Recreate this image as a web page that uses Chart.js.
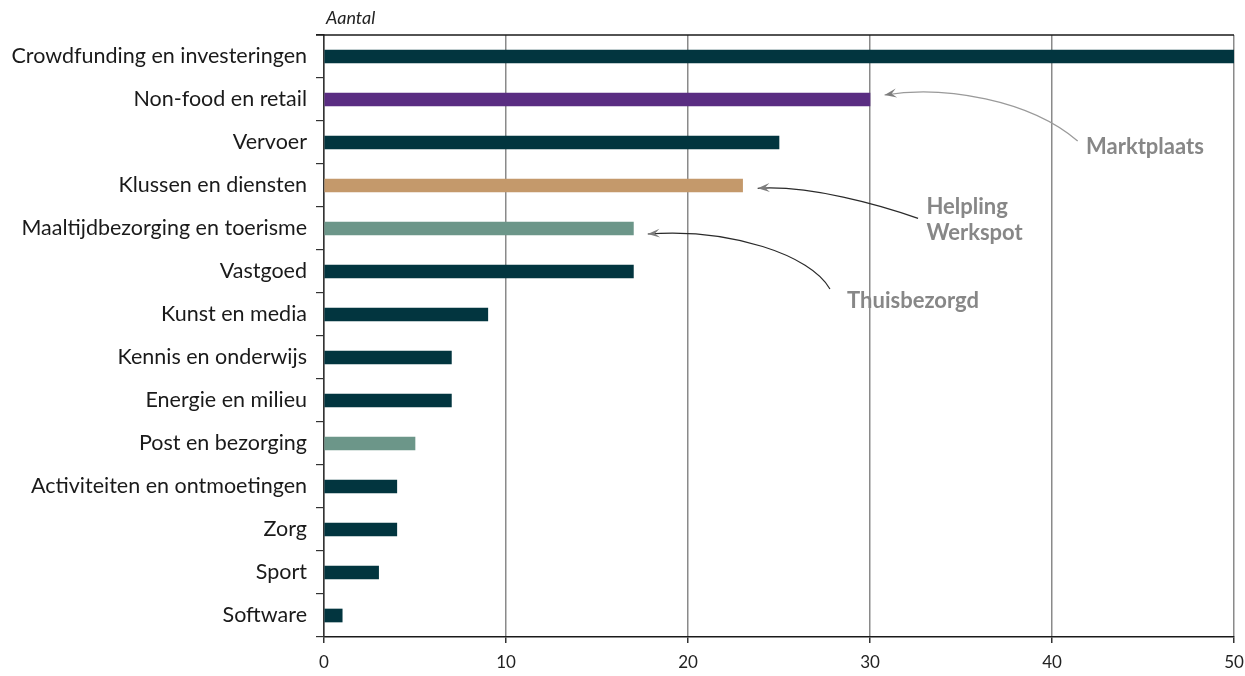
<!DOCTYPE html>
<html>
<head>
<meta charset="utf-8">
<script src="https://cdn.jsdelivr.net/npm/chart.js@4.4.0/dist/chart.umd.min.js"></script>
<style>
  html, body { margin: 0; padding: 0; background: #fff; }
</style>
</head>
<body>
<canvas id="chart" width="1245" height="676"></canvas>
<script>
const categories = [
  "Crowdfunding en investeringen",
  "Non-food en retail",
  "Vervoer",
  "Klussen en diensten",
  "Maaltijdbezorging en toerisme",
  "Vastgoed",
  "Kunst en media",
  "Kennis en onderwijs",
  "Energie en milieu",
  "Post en bezorging",
  "Activiteiten en ontmoetingen",
  "Zorg",
  "Sport",
  "Software"
];
const counts = [50, 30, 25, 23, 17, 17, 9, 7, 7, 5, 4, 4, 3, 1];
const xTicks = [0, 10, 20, 30, 40, 50];

const DARK = "#02353f", PURPLE = "#5a2d82", TAN = "#c4996b", SAGE = "#6c9689";
const barColors = [DARK, PURPLE, DARK, TAN, SAGE, DARK, DARK, DARK, DARK, SAGE, DARK, DARK, DARK, DARK];

// callouts, placed in data units (x = value, y = category index)
const callouts = [
  { lines: ["Marktplaats"], at: [41.87, 2.098], from: [41.41, 1.965], c1: [38.79, 1.012], c2: [34.07, 0.663], tip: [30.8, 0.895], stroke: "#9a9a9a" },
  { lines: ["Helpling", "Werkspot"], at: [33.1, 3.493], from: [32.64, 3.763], c1: [30.55, 3.453], c2: [26.7, 2.988], tip: [23.83, 3.065], stroke: "#2a2a2a" },
  { lines: ["Thuisbezorgd"], at: [28.74, 5.679], from: [27.8, 5.407], c1: [26.76, 4.616], c2: [22.31, 3.988], tip: [17.79, 4.128], stroke: "#2a2a2a" }
];

const extras = {
  id: "extras",
  afterDatasetsDraw(chart) {
    const { ctx, chartArea, scales } = chart;
    const x = scales.x, y = scales.y;
    const px = (p) => [x.getPixelForValue(p[0]), y.getPixelForValue(p[1])];
    ctx.save();

    // top frame line
    ctx.strokeStyle = "#1a1a1a";
    ctx.lineWidth = 1.5;
    ctx.beginPath();
    ctx.moveTo(chartArea.left - 8, chartArea.top);
    ctx.lineTo(chartArea.right, chartArea.top);
    ctx.stroke();

    // axis caption
    ctx.fillStyle = "#222";
    ctx.font = "italic 18px Lato";
    ctx.textBaseline = "middle";
    ctx.textAlign = "left";
    ctx.fillText("Aantal", chartArea.left + 2, chartArea.top - 17);

    callouts.forEach((c) => {
      const s = px(c.from), a = px(c.c1), b = px(c.c2), t = px(c.tip);
      ctx.strokeStyle = c.stroke;
      ctx.lineWidth = 1.2;
      ctx.beginPath();
      ctx.moveTo(s[0], s[1]);
      ctx.bezierCurveTo(a[0], a[1], b[0], b[1], t[0], t[1]);
      ctx.stroke();

      const ang = Math.atan2(t[1] - b[1], t[0] - b[0]);
      const len = 12, half = 4.5;
      ctx.fillStyle = "#7d7d7d";
      ctx.beginPath();
      ctx.moveTo(t[0], t[1]);
      ctx.lineTo(t[0] - len * Math.cos(ang) + half * Math.sin(ang), t[1] - len * Math.sin(ang) - half * Math.cos(ang));
      ctx.lineTo(t[0] - len * 0.6 * Math.cos(ang), t[1] - len * 0.6 * Math.sin(ang));
      ctx.lineTo(t[0] - len * Math.cos(ang) - half * Math.sin(ang), t[1] - len * Math.sin(ang) + half * Math.cos(ang));
      ctx.closePath();
      ctx.fill();

      const p = px(c.at);
      ctx.fillStyle = "#878787";
      ctx.font = "bold 22px Lato";
      c.lines.forEach((line, i) => ctx.fillText(line, p[0], p[1] + i * 26));
    });
    ctx.restore();
  }
};

new Chart(document.getElementById("chart"), {
  type: "bar",
  data: {
    labels: categories,
    datasets: [{
      data: counts,
      backgroundColor: barColors,
      barThickness: 13,
      borderWidth: 0
    }]
  },
  options: {
    indexAxis: "y",
    responsive: false,
    animation: false,
    layout: { padding: { top: 35, right: 11, left: 0, bottom: 0 } },
    plugins: { legend: { display: false }, tooltip: { enabled: false } },
    scales: {
      x: {
        type: "linear",
        min: 0,
        max: 50,
        afterBuildTicks: (s) => { s.ticks = xTicks.map((v) => ({ value: v })); },
        afterFit: (s) => { s.height = 39; s.paddingRight = 0; s.paddingLeft = 0; },
        ticks: { color: "#222", font: { family: "Lato", size: 17 }, padding: 9 },
        grid: { color: "#8a8a8a", lineWidth: 1.5, tickColor: "#333", tickLength: 6 },
        border: { display: true, color: "#1a1a1a", width: 1.5 }
      },
      y: {
        offset: true,
        afterFit: (s) => { s.width = 324; },
        ticks: { color: "#1a1a1a", font: { family: "Lato", size: 21.5 }, padding: 9 },
        grid: { drawOnChartArea: false, offset: true, tickColor: "#333", tickLength: 8, lineWidth: 1.2 },
        border: { display: true, color: "#333", width: 1.5 }
      }
    }
  },
  plugins: [extras]
});
</script>
</body>
</html>
